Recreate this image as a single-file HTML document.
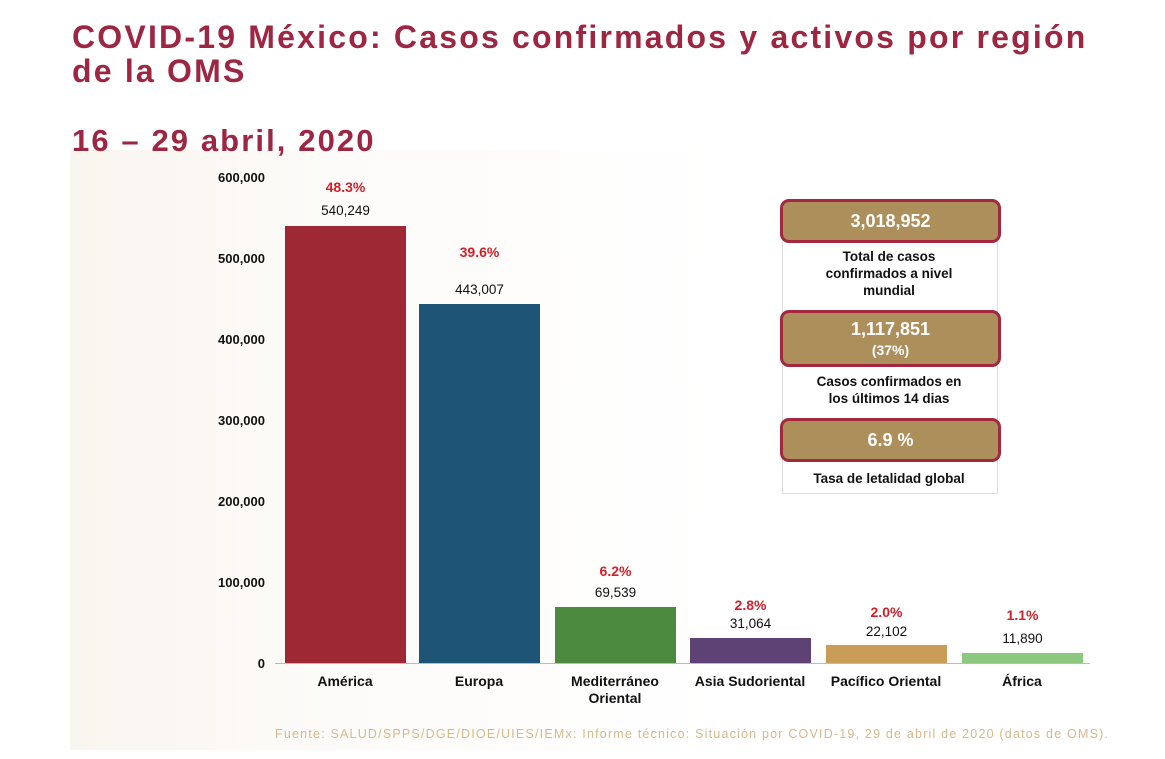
<!DOCTYPE html>
<html><head><meta charset="utf-8"><style>
body{margin:0;width:1165px;height:759px;background:#fff;position:relative;overflow:hidden;font-family:"Liberation Sans",sans-serif}
.bg{position:absolute;left:70px;top:150px;width:650px;height:600px;background:linear-gradient(90deg,#f9f5ef,#fdfbf9 40%,#fff)}
.t{position:absolute;color:#9d2642;font-weight:bold;font-size:32px;left:72px;line-height:34px;letter-spacing:2.2px;white-space:nowrap}
.a{position:absolute;font-size:13px;font-weight:bold;color:#111;text-align:right;width:60px}
.bar{position:absolute;width:121px}
.v{position:absolute;width:121px;text-align:center;font-size:13.5px;color:#111}
.p{position:absolute;width:121px;text-align:center;font-size:14px;font-weight:bold;color:#d2202a}
.c{position:absolute;width:150px;text-align:center;font-size:14px;font-weight:bold;color:#111;top:673px;line-height:17px}
.box{position:absolute;left:780px;width:221px;background:#ad8f5c;border:3px solid #a3283f;border-radius:9px;color:#fff;font-weight:bold;text-align:center;font-size:18px;box-sizing:border-box}
.lab{position:absolute;left:782px;width:214px;text-align:center;font-weight:bold;font-size:13.5px;color:#111;line-height:17px}
</style></head><body>
<div class="bg"></div>
<div class="t" style="top:20px">COVID-19 México: Casos confirmados y activos por región<br>de la OMS</div>
<div class="t" style="top:124px;font-size:31px;letter-spacing:2.1px">16 – 29 abril, 2020</div>
<div class="a" style="left:205px;top:170px">600,000</div>
<div class="a" style="left:205px;top:251px">500,000</div>
<div class="a" style="left:205px;top:332px">400,000</div>
<div class="a" style="left:205px;top:413px">300,000</div>
<div class="a" style="left:205px;top:494px">200,000</div>
<div class="a" style="left:205px;top:575px">100,000</div>
<div class="a" style="left:205px;top:656px">0</div>
<div style="position:absolute;left:275px;top:663px;width:815px;height:1px;background:#bbb"></div>
<div class="bar" style="left:285px;top:226px;height:437px;background:#9e2935"></div>
<div class="bar" style="left:419px;top:304px;height:359px;background:#1e5577"></div>
<div class="bar" style="left:555px;top:607px;height:56px;background:#4b8a3f"></div>
<div class="bar" style="left:690px;top:638px;height:25px;background:#5e4275"></div>
<div class="bar" style="left:826px;top:645px;height:18px;background:#c99d58"></div>
<div class="bar" style="left:962px;top:653px;height:10px;background:#8cc97e"></div>
<div class="p" style="left:285px;top:179px">48.3%</div><div class="v" style="left:285px;top:203px">540,249</div>
<div class="p" style="left:419px;top:244px">39.6%</div><div class="v" style="left:419px;top:282px">443,007</div>
<div class="p" style="left:555px;top:563px">6.2%</div><div class="v" style="left:555px;top:585px">69,539</div>
<div class="p" style="left:690px;top:597px">2.8%</div><div class="v" style="left:690px;top:616px">31,064</div>
<div class="p" style="left:826px;top:604px">2.0%</div><div class="v" style="left:826px;top:624px">22,102</div>
<div class="p" style="left:962px;top:607px">1.1%</div><div class="v" style="left:962px;top:631px">11,890</div>
<div class="c" style="left:270px">América</div>
<div class="c" style="left:404px">Europa</div>
<div class="c" style="left:540px">Mediterráneo<br>Oriental</div>
<div class="c" style="left:675px">Asia Sudoriental</div>
<div class="c" style="left:811px">Pacífico Oriental</div>
<div class="c" style="left:947px">África</div>
<div style="position:absolute;left:782px;top:215px;width:214px;height:277px;border:1px solid #ddd"></div>
<div class="box" style="top:199px;height:44px;line-height:38px">3,018,952</div>
<div class="lab" style="top:248px">Total de casos<br>confirmados a nivel<br>mundial</div>
<div class="box" style="top:310px;height:57px;line-height:20px;padding-top:6px">1,117,851<br><span style="font-size:14px">(37%)</span></div>
<div class="lab" style="top:373px">Casos confirmados en<br>los últimos 14 dias</div>
<div class="box" style="top:418px;height:44px;line-height:38px">6.9 %</div>
<div class="lab" style="top:470px">Tasa de letalidad global</div>
<div style="position:absolute;left:275px;top:727px;font-size:12.5px;letter-spacing:1.2px;color:#d7b98a;white-space:nowrap">Fuente: SALUD/SPPS/DGE/DIOE/UIES/IEMx: Informe técnico: Situación por COVID-19, 29 de abril de 2020 (datos de OMS).</div>
</body></html>
